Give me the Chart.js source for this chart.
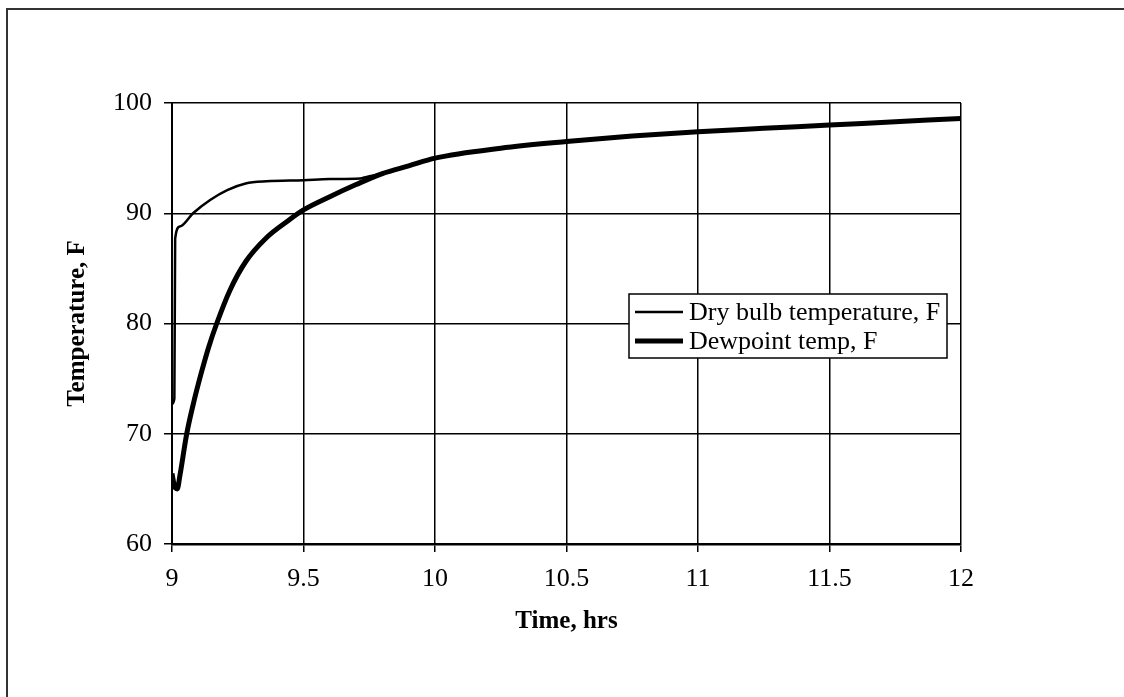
<!DOCTYPE html>
<html>
<head>
<meta charset="utf-8">
<title>Temperature vs Time</title>
<script src="https://cdn.jsdelivr.net/npm/chart.js@4/dist/chart.umd.min.js"></script>
<style>
    body {
        margin: 0;
        background: #fff;
        overflow: hidden;
    }
    .wrap {
        position: relative;
        width: 1124px;
        height: 697px;
    }
    .frame {
        position: absolute;
        left: 6px;
        top: 8px;
        width: 1200px;
        height: 800px;
        border-top: 2px solid #333;
        border-left: 2px solid #333;
    }
    canvas {
        position: absolute;
        left: 0;
        top: 0;
    }
</style>
</head>
<body>
<div class="wrap">
    <div class="frame"></div>
    <canvas id="tempChart" width="1124" height="697"></canvas>
</div>

<script>

/* ====================================
   DATA
==================================== */

const xTicks = [9, 9.5, 10, 10.5, 11, 11.5, 12];
const yTicks = [60, 70, 80, 90, 100];

const dryTime = [
    9.0, 9.009, 9.012, 9.03, 9.08, 9.145, 9.21, 9.28, 9.36,
    9.5, 9.6, 9.715, 9.74, 9.8, 9.9, 10.0, 10.25, 10.5,
    10.75, 11.0, 11.25, 11.5, 11.75, 12.0
];
const dryTemp = [
    72.7, 73.2, 87.7, 88.8, 90.0, 91.2, 92.1, 92.7, 92.9,
    93.0, 93.1, 93.15, 93.3, 93.6, 94.3, 95.0, 95.9, 96.5,
    97.0, 97.4, 97.7, 98.0, 98.3, 98.6
];

const dewTime = [
    9.0, 9.01, 9.02, 9.03, 9.056, 9.08, 9.11, 9.14, 9.17,
    9.22, 9.28, 9.36, 9.44, 9.5, 9.6, 9.7, 9.8, 9.9, 10.0,
    10.25, 10.5, 10.75, 11.0, 11.25, 11.5, 11.75, 12.0
];
const dewTemp = [
    66.4, 65.2, 65.0, 66.2, 70.0, 72.6, 75.4, 77.9, 80.0,
    83.0, 85.6, 87.8, 89.3, 90.3, 91.5, 92.6, 93.6, 94.3, 95.0,
    95.9, 96.5, 97.0, 97.4, 97.7, 98.0, 98.3, 98.6
];

const seriesNames = ["Dry bulb temperature, F", "Dewpoint temp, F"];

/* ====================================
   HELPERS
==================================== */

function toPoints(xs, ys) {
    return xs.map((x, i) => ({ x: x, y: ys[i] }));
}

const serif = "'Liberation Serif', 'Times New Roman', serif";

/* ====================================
   LEGEND BOX (drawn inside plot)
==================================== */

const boxLegend = {
    id: "boxLegend",
    afterDraw(chart) {
        const ctx = chart.ctx;
        const left = 629, top = 294, width = 318, height = 64;
        const rowH = 29;

        ctx.save();
        ctx.fillStyle = "#fff";
        ctx.fillRect(left, top, width, height);
        ctx.strokeStyle = "#000";
        ctx.lineWidth = 1.5;
        ctx.strokeRect(left, top, width, height);

        ctx.font = "26px " + serif;
        ctx.textBaseline = "middle";
        ctx.fillStyle = "#000";

        chart.data.datasets.forEach((ds, i) => {
            const y = top + 18 + i * rowH;
            ctx.beginPath();
            ctx.lineWidth = ds.borderWidth;
            ctx.moveTo(left + 6, y);
            ctx.lineTo(left + 54, y);
            ctx.stroke();
            ctx.fillText(ds.label, left + 60, y + 1);
        });
        ctx.restore();
    }
};

/* ====================================
   CHART
==================================== */

new Chart(document.getElementById("tempChart"), {

    type: "line",

    data: {
        datasets: [
            {
                label: seriesNames[0],
                data: toPoints(dryTime, dryTemp),
                borderColor: "#000",
                borderWidth: 2.5,
                pointRadius: 0,
                cubicInterpolationMode: "monotone",
                fill: false
            },
            {
                label: seriesNames[1],
                data: toPoints(dewTime, dewTemp),
                borderColor: "#000",
                borderWidth: 5,
                pointRadius: 0,
                cubicInterpolationMode: "monotone",
                fill: false
            }
        ]
    },

    options: {
        responsive: false,
        animation: false,
        devicePixelRatio: 1,
        layout: {
            padding: { left: 63, right: 163, top: 103, bottom: 60 }
        },
        plugins: {
            legend: { display: false },
            tooltip: { enabled: false }
        },
        scales: {
            x: {
                type: "linear",
                min: xTicks[0],
                max: xTicks[xTicks.length - 1],
                afterBuildTicks: (s) => { s.ticks = xTicks.map(v => ({ value: v })); },
                afterFit: (s) => { s.height = 93; },
                ticks: {
                    color: "#000",
                    padding: 12,
                    callback: (v) => String(v),
                    font: { family: serif, size: 26 }
                },
                grid: {
                    color: "#000",
                    lineWidth: 1.5,
                    tickLength: 8
                },
                border: { color: "#000", width: 2.5 },
                title: {
                    display: true,
                    text: "Time, hrs",
                    color: "#000",
                    padding: 0,
                    font: { family: serif, size: 25, weight: "bold" }
                }
            },
            y: {
                min: yTicks[0],
                max: yTicks[yTicks.length - 1],
                afterBuildTicks: (s) => { s.ticks = yTicks.map(v => ({ value: v })); },
                afterFit: (s) => { s.width = 109; },
                ticks: {
                    color: "#000",
                    padding: 12,
                    callback: (v) => String(v),
                    font: { family: serif, size: 26 }
                },
                grid: {
                    color: "#000",
                    lineWidth: 1.5,
                    tickLength: 8
                },
                border: { color: "#000", width: 2 },
                title: {
                    display: true,
                    text: "Temperature, F",
                    color: "#000",
                    padding: 0,
                    font: { family: serif, size: 25, weight: "bold" }
                }
            }
        }
    },

    plugins: [boxLegend]

});

</script>
</body>
</html>
